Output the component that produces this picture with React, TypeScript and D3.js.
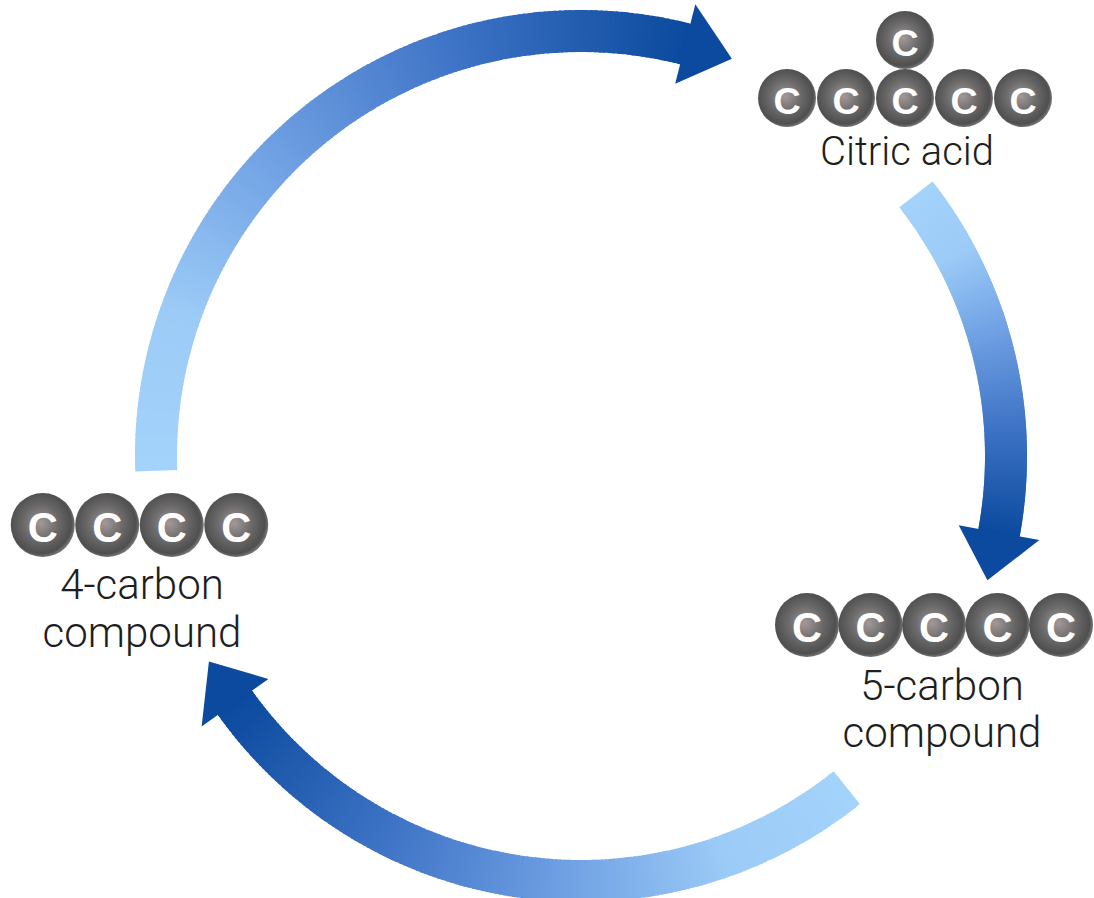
import * as React from 'react';
import * as d3 from 'd3';

// cycle geometry (degrees, clockwise from 12 o'clock)
const ARROW_START = [268, 52, 141.3];
const ARROW_HEAD_BASE = [374.5, 100.7, 234.8];
const HEAD_SWEEP = 6.3;

// colour ramp along each arrow (offset 0 = tail, 1 = head)
const RAMP_OFFSETS = [0, 0.2, 0.45, 0.7, 1];
const RAMP_COLORS = ['#a3d3fb', '#9ccbf7', '#6d9ee2', '#3f74c6', '#0b4a9e'];

// molecules
const MOLECULES = ['citric', 'five', 'four'];
const MOLECULE_LABELS = [['Citric acid'], ['5-carbon', 'compound'], ['4-carbon', 'compound']];
const ROW_ATOMS = [5, 5, 4];
const TOP_ATOMS = [1, 0, 0];

const W = 1094;
const H = 898;
const CX = 581;
const CY = 456;
const R = 425;
const BAND = 21;
const HEAD_HALF = 41;

const LAYOUT: Record<string, { x: number; y: number; r: number; gap: number; textY: number; lineH: number; fs: number; textX: number }> = {
  citric: { x: 905, y: 98, r: 29, gap: 59, textY: 165, lineH: 0, fs: 40, textX: 907 },
  five: { x: 934, y: 625, r: 32, gap: 63.5, textY: 700, lineH: 47, fs: 42, textX: 942 },
  four: { x: 139.5, y: 525, r: 32, gap: 64.5, textY: 599, lineH: 48, fs: 42, textX: 142 },
};

export default function App() {
  const svgRef = React.useRef<SVGSVGElement | null>(null);

  React.useEffect(() => {
    if (!svgRef.current) return;
    const svg = d3.select(svgRef.current);
    svg.selectAll('*').remove();

    const defs = svg.append('defs');
    const grad = defs.append('radialGradient').attr('id', 'atom').attr('cx', '47%').attr('cy', '47%').attr('r', '53%');
    grad.append('stop').attr('offset', '0%').attr('stop-color', '#a29999');
    grad.append('stop').attr('offset', '50%').attr('stop-color', '#6c6a6a');
    grad.append('stop').attr('offset', '90%').attr('stop-color', '#4f4f4f');
    grad.append('stop').attr('offset', '100%').attr('stop-color', '#737373');

    const color = d3.scaleLinear<string>().domain(RAMP_OFFSETS).range(RAMP_COLORS).interpolate(d3.interpolateRgb);
    const rad = (deg: number) => (deg * Math.PI) / 180;
    const pt = (deg: number, r: number): [number, number] => [CX + r * Math.sin(rad(deg)), CY - r * Math.cos(rad(deg))];

    const g = svg.append('g');
    const arc = d3.arc<{ a0: number; a1: number }>()
      .innerRadius(R - BAND)
      .outerRadius(R + BAND)
      .startAngle((d) => rad(d.a0))
      .endAngle((d) => rad(d.a1));

    const N = 160;
    ARROW_START.forEach((start, i) => {
      const end = ARROW_HEAD_BASE[i];
      const ang = d3.scaleLinear().domain([0, N]).range([start, end]);
      const segs = d3.range(N).map((k) => ({ a0: ang(k), a1: Math.min(end, ang(k + 1) + 0.25), t: k / (N - 1) }));
      g.append('g')
        .attr('transform', `translate(${CX},${CY})`)
        .selectAll('path')
        .data(segs)
        .join('path')
        .attr('d', (d) => arc(d) as string)
        .attr('fill', (d) => color(d.t));

      // head
      const b1 = pt(end - 0.3, R - HEAD_HALF);
      const b2 = pt(end - 0.3, R + HEAD_HALF);
      const tip = pt(end + HEAD_SWEEP, R);
      g.append('path')
        .attr('d', d3.line()([b1, b2, tip]) + 'Z')
        .attr('fill', color(1));
    });

    // molecules
    MOLECULES.forEach((key, i) => {
      const L = LAYOUT[key];
      const n = ROW_ATOMS[i];
      const xs = d3.scaleLinear().domain([0, n - 1]).range([L.x - ((n - 1) * L.gap) / 2, L.x + ((n - 1) * L.gap) / 2]);
      const atoms: [number, number][] = d3.range(n).map((k) => [xs(k), L.y]);
      d3.range(TOP_ATOMS[i]).forEach(() => atoms.push([L.x, L.y - L.gap + 1]));
      const mg = svg.append('g');
      const a = mg.selectAll('g').data(atoms).join('g').attr('transform', (d) => `translate(${d[0]},${d[1]})`);
      a.append('circle').attr('r', L.r).attr('fill', 'url(#atom)');
      a.append('text')
        .attr('text-anchor', 'middle')
        .attr('y', 2)
        .attr('dy', '0.36em')
        .attr('fill', '#ffffff')
        .attr('font-family', 'Liberation Sans, Arial, sans-serif')
        .attr('font-weight', 'bold')
        .attr('font-size', L.r * 1.3)
        .text('C');
      MOLECULE_LABELS[i].forEach((line, j) => {
        mg.append('text')
          .attr('x', L.textX)
          .attr('y', L.textY + j * L.lineH)
          .attr('text-anchor', 'middle')
          .attr('fill', '#1e1e1e')
          .attr('font-family', 'Roboto, Liberation Sans, sans-serif')
          .attr('font-weight', 300)
          .attr('font-size', L.fs)
          .text(line);
      });
    });
  }, []);

  return (
    <svg
      ref={svgRef}
      width={W}
      height={H}
      viewBox={`0 0 ${W} ${H}`}
      style={{ position: 'absolute', left: 0, top: 0, background: '#ffffff' }}
    />
  );
}
